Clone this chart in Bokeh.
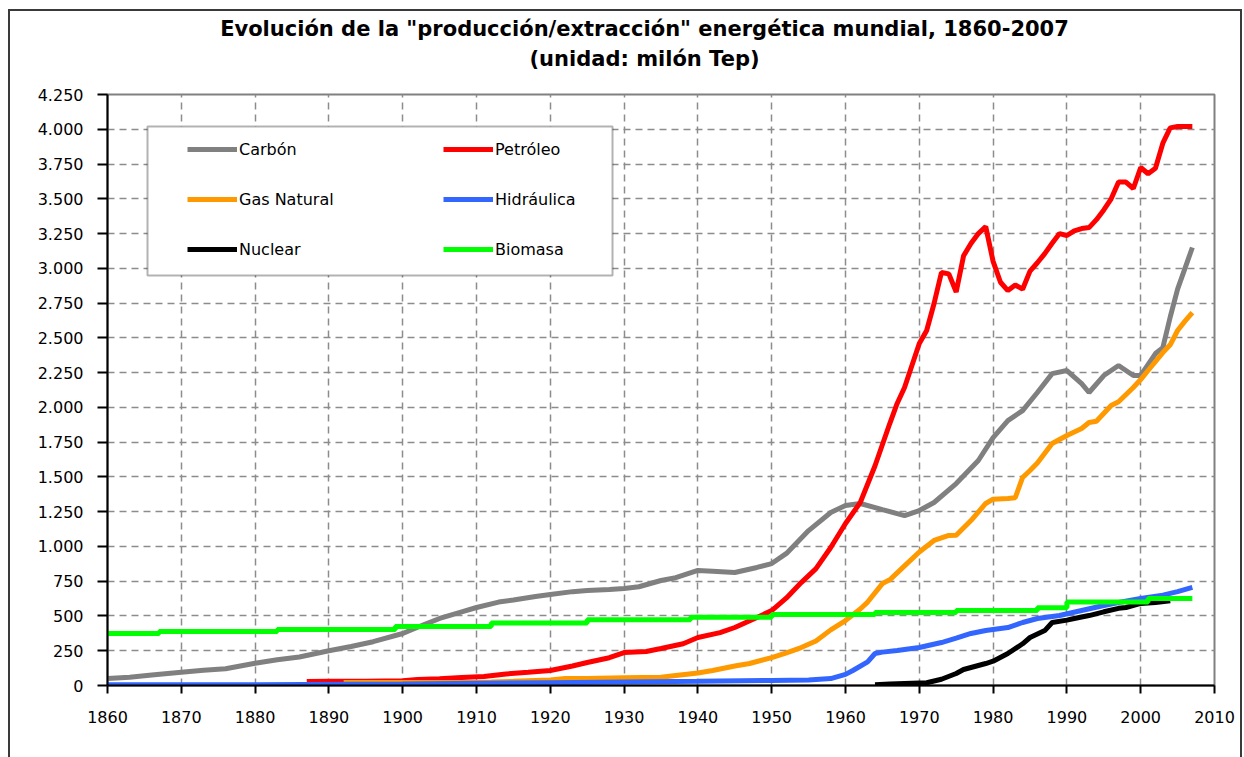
from bokeh.plotting import figure
from bokeh.layouts import column
from bokeh.models import Range1d, FixedTicker, Legend, LegendItem, Label, BoxAnnotation
from bokeh.embed import file_html
from bokeh.resources import INLINE

# ---------------- data (millón Tep) ----------------
carbon_years = [1860, 1863, 1866, 1870, 1873, 1876, 1880, 1883, 1886, 1890, 1893, 1896,
                1900, 1903, 1905, 1908, 1910, 1913, 1915, 1918, 1920, 1923, 1925, 1928,
                1930, 1932, 1935, 1937, 1940, 1942, 1945, 1948, 1950, 1952, 1955, 1958,
                1960, 1962, 1965, 1968, 1970, 1972, 1975, 1978, 1980, 1982, 1984, 1986,
                1988, 1990, 1992, 1993, 1995, 1997, 1999, 2000, 2002, 2003, 2004, 2005,
                2006, 2007]
carbon = [50, 60, 75, 95, 110, 120, 160, 185, 205, 250, 280, 315,
          374, 440, 482, 530, 561, 600, 615, 640, 655, 675, 683, 690,
          697, 710, 755, 775, 827, 822, 813, 849, 877, 950, 1114, 1244,
          1295, 1309, 1265, 1222, 1258, 1316, 1452, 1618, 1783, 1905, 1977, 2107,
          2243, 2265, 2171, 2107, 2229, 2301, 2229, 2230, 2387, 2430, 2650, 2850,
          3000, 3150]

petroleo_years = [1887, 1890, 1895, 1900, 1902, 1905, 1908, 1911, 1914, 1917, 1920, 1923,
                  1925, 1928, 1930, 1933, 1935, 1938, 1940, 1943, 1945, 1948, 1950, 1952,
                  1954, 1956, 1958, 1960, 1962, 1964, 1966, 1967, 1968, 1970, 1971, 1972,
                  1973, 1974, 1975, 1976, 1977, 1978, 1979, 1980, 1981, 1982, 1983, 1984,
                  1985, 1986, 1987, 1988, 1989, 1990, 1991, 1992, 1993, 1994, 1995, 1996,
                  1997, 1998, 1999, 2000, 2001, 2002, 2003, 2004, 2005, 2006, 2007]
petroleo = [28, 30, 30, 35, 43, 48, 58, 65, 83, 95, 108, 140,
            165, 200, 237, 245, 266, 300, 345, 380, 417, 489, 539, 630,
            740, 840, 992, 1165, 1316, 1580, 1884, 2028, 2143, 2459, 2553, 2747,
            2970, 2960, 2830, 3090, 3178, 3250, 3300, 3050, 2900, 2840, 2880, 2850,
            2980, 3040, 3106, 3180, 3250, 3236, 3270, 3286, 3293, 3350, 3420, 3500,
            3620, 3620, 3574, 3725, 3680, 3720, 3900, 4010, 4020, 4020, 4020]

gas_years = [1892, 1900, 1910, 1912, 1915, 1920, 1922, 1925, 1930, 1935, 1937, 1940,
             1942, 1945, 1947, 1950, 1952, 1954, 1956, 1958, 1960, 1962, 1963, 1965,
             1966, 1968, 1970, 1972, 1974, 1975, 1977, 1979, 1980, 1982, 1983, 1984,
             1985, 1986, 1988, 1990, 1992, 1993, 1994, 1996, 1997, 1999, 2000, 2001,
             2003, 2004, 2005, 2006, 2007]
gas = [22, 22, 22, 25, 30, 40, 50, 50, 55, 60, 72, 90,
       108, 140, 158, 201, 235, 273, 320, 400, 467, 550, 600, 733,
       760, 860, 960, 1043, 1079, 1080, 1186, 1309, 1340, 1345, 1350, 1496,
       1546, 1600, 1740, 1798, 1848, 1891, 1900, 2013, 2040, 2143, 2200, 2265,
       2394, 2450, 2553, 2620, 2682]

hidraulica_years = [1860, 1880, 1900, 1920, 1940, 1950, 1955, 1958, 1960, 1961, 1963, 1964,
                    1965, 1967, 1970, 1973, 1975, 1977, 1979, 1982, 1984, 1986, 1989, 1992,
                    1995, 1997, 2000, 2003, 2005, 2007]
hidraulica = [5, 5, 10, 20, 30, 36, 40, 50, 80, 108, 170, 230,
              240, 252, 273, 309, 340, 374, 395, 417, 453, 482, 503, 539,
              575, 597, 626, 650, 675, 705]

nuclear_years = [1964, 1966, 1971, 1973, 1975, 1976, 1979, 1980, 1982, 1984, 1985, 1987,
                 1988, 1990, 1991, 1993, 1995, 1997, 1998, 2000, 2002, 2004]
nuclear = [5, 10, 20, 45, 86, 115, 158, 175, 230, 300, 345, 395,
           453, 470, 482, 503, 530, 555, 561, 590, 597, 610]

biomasa_years = [1860, 1867, 1883, 1899, 1912, 1925, 1939, 1950, 1964, 1975, 1986, 1990, 2001, 2007]
biomasa = [374, 388, 403, 424, 450, 472, 490, 510, 525, 540, 560, 600, 625, 625]

x_ticks = list(range(1860, 2011, 10))
y_ticks = list(range(0, 4251, 250))
y_tick_labels = ["0", "250", "500", "750", "1.000", "1.250", "1.500", "1.750", "2.000",
                 "2.250", "2.500", "2.750", "3.000", "3.250", "3.500", "3.750", "4.000", "4.250"]

title_line1 = 'Evolución de la "producción/extracción" energética mundial, 1860-2007'
title_line2 = "(unidad: milón Tep)"

FONT = "DejaVu Sans"
BORDER = "2px solid #3a3a3a"
W = 1230

# ---------------- title strip ----------------
pt = figure(width=W, height=73, output_backend="svg", toolbar_location=None,
            x_range=Range1d(0, 1), y_range=Range1d(0, 1), title=None,
            x_axis_location=None, y_axis_location=None,
            min_border_left=97, min_border_right=26, min_border_top=0, min_border_bottom=0)
pt.grid.visible = False
pt.outline_line_color = None
pt.background_fill_color = "white"
for txt, ypos in ((title_line1, 56), (title_line2, 26)):
    pt.add_layout(Label(x=537, y=ypos, x_units="screen", y_units="screen", text=txt,
                        text_align="center", text_baseline="middle",
                        text_font=FONT, text_font_style="bold", text_font_size="21px",
                        text_color="black"))

# ---------------- main chart ----------------
p = figure(width=W, height=673, output_backend="svg", toolbar_location=None,
           x_range=Range1d(1860, 2010), y_range=Range1d(0, 4250), title=None,
           min_border_left=97, min_border_right=26, min_border_top=10, min_border_bottom=72)
p.background_fill_color = "white"
p.outline_line_color = "#808080"
p.outline_line_width = 2

p.xaxis.ticker = FixedTicker(ticks=x_ticks)
p.yaxis.ticker = FixedTicker(ticks=y_ticks)
p.yaxis.major_label_overrides = {t: lab for t, lab in zip(y_ticks, y_tick_labels)}
for ax in (p.xaxis[0], p.yaxis[0]):
    ax.axis_line_color = "black"
    ax.axis_line_width = 2
    ax.major_tick_line_color = "black"
    ax.major_tick_line_width = 2
    ax.major_tick_in = 0
    ax.minor_tick_line_color = None
    ax.major_label_text_font = FONT
    ax.major_label_text_font_size = "16px"
    ax.major_label_text_color = "black"
p.xaxis.major_tick_out = 8
p.yaxis.major_tick_out = 10
p.xaxis.major_label_standoff = 17
p.yaxis.major_label_standoff = 14

for g in (p.xgrid[0], p.ygrid[0]):
    g.grid_line_color = "#8c8c8c"
    g.grid_line_width = 1.5
    g.grid_line_dash = "7 5"

LW = 5
r_carbon = p.line(carbon_years, carbon, line_color="#808080", line_width=LW)
r_petro = p.line(petroleo_years, petroleo, line_color="#ff0000", line_width=LW)
r_gas = p.line(gas_years, gas, line_color="#ff9900", line_width=LW)
r_hid = p.line(hidraulica_years, hidraulica, line_color="#3366ff", line_width=LW)
r_nuc = p.line(nuclear_years, nuclear, line_color="#000000", line_width=LW)
r_bio = p.step(biomasa_years, biomasa, mode="after", line_color="#00ff00", line_width=LW)

# legend frame
box = BoxAnnotation(left=1865.42, right=1928.43, bottom=2948, top=4020,
                    fill_color="white", fill_alpha=1.0, line_color="black", line_width=2,
                    level="annotation")
p.add_layout(box)

legend = Legend(items=[
    LegendItem(label="Carbón", renderers=[r_carbon]),
    LegendItem(label="Gas Natural", renderers=[r_gas]),
    LegendItem(label="Nuclear", renderers=[r_nuc]),
    LegendItem(label="Petróleo", renderers=[r_petro]),
    LegendItem(label="Hidráulica", renderers=[r_hid]),
    LegendItem(label="Biomasa", renderers=[r_bio]),
], location=(80, 426), ncols=2, orientation="vertical",
    padding=0, margin=0, spacing=30, glyph_width=50, glyph_height=20,
    label_height=20, label_width=174, label_standoff=2,
    label_text_font=FONT, label_text_font_size="16px", label_text_color="black",
    border_line_alpha=0, background_fill_alpha=0)
p.add_layout(legend)

layout = column(pt, p, spacing=0,
                styles={"margin-left": "8px", "margin-top": "9px",
                        "border-top": BORDER, "border-left": BORDER, "border-right": BORDER})

open("out.html", "w").write(file_html(layout, INLINE))
